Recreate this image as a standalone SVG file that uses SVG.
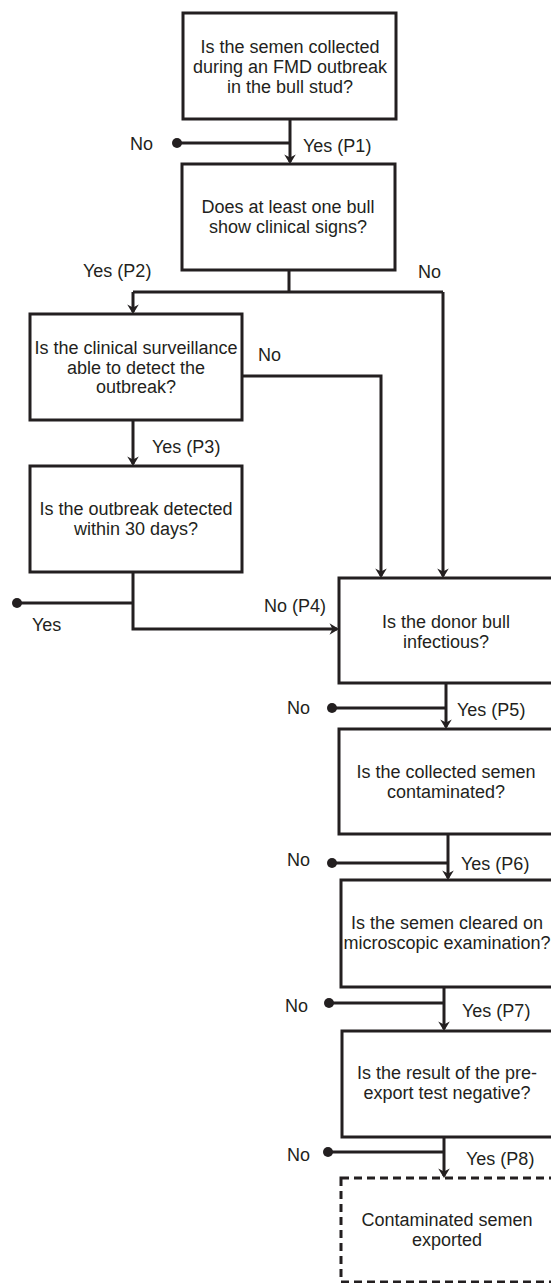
<svg xmlns="http://www.w3.org/2000/svg" width="551" height="1283" viewBox="0 0 551 1283">
<defs>
<style>
.box{fill:#fff;stroke:#231f20;stroke-width:3}
.dash{fill:#fff;stroke:#231f20;stroke-width:3;stroke-dasharray:8 5}
.t{font-family:"Liberation Sans",Arial,sans-serif;font-size:18px;fill:#231f20;text-anchor:middle}
.l{font-family:"Liberation Sans",Arial,sans-serif;font-size:18px;fill:#231f20}
.c{fill:none;stroke:#231f20;stroke-width:3}
.a{fill:none;stroke:#231f20;stroke-width:3;marker-end:url(#arr)}
.dot{fill:#231f20}
</style>
<marker id="arr" markerUnits="userSpaceOnUse" markerWidth="14" markerHeight="14" refX="10" refY="7" orient="auto">
<path d="M12,7 L2.5,1.2 L5.5,7 L2.5,12.8 Z" fill="#231f20"/>
</marker>
</defs>
<g id="connectors">
<path class="a" d="M290,119 V162"/>
<path class="c" d="M177,143 H290"/>
<circle class="dot" cx="177" cy="143" r="5"/>
<path class="c" d="M289,270 V292 M133,292 H443"/>
<path class="a" d="M133,292 V312"/>
<path class="a" d="M443,292 V576"/>
<path class="a" d="M242,376 H381 V576"/>
<path class="a" d="M133,420 V464"/>
<path class="a" d="M133,572 V629 H337"/>
<path class="c" d="M17,603 H133"/>
<circle class="dot" cx="17" cy="603" r="5"/>
<path class="a" d="M446,683 V727"/>
<path class="c" d="M332,708 H446"/>
<circle class="dot" cx="332" cy="708" r="5"/>
<path class="a" d="M448,834 V878"/>
<path class="c" d="M332,863 H448"/>
<circle class="dot" cx="332" cy="863" r="5"/>
<path class="a" d="M444,987 V1029"/>
<path class="c" d="M329,1003 H444"/>
<circle class="dot" cx="329" cy="1003" r="5"/>
<path class="a" d="M444,1137 V1176"/>
<path class="c" d="M328,1152 H444"/>
<circle class="dot" cx="328" cy="1152" r="5"/>
</g>
<g id="labels">
<text class="l" x="130" y="150">No</text>
<text class="l" x="303" y="152">Yes (P1)</text>
<text class="l" x="83" y="277">Yes (P2)</text>
<text class="l" x="418" y="278">No</text>
<text class="l" x="258" y="361">No</text>
<text class="l" x="152" y="453">Yes (P3)</text>
<text class="l" x="32" y="631">Yes</text>
<text class="l" x="264" y="612">No (P4)</text>
<text class="l" x="287" y="714">No</text>
<text class="l" x="457" y="716">Yes (P5)</text>
<text class="l" x="287" y="866">No</text>
<text class="l" x="461" y="870">Yes (P6)</text>
<text class="l" x="285" y="1012">No</text>
<text class="l" x="462" y="1017">Yes (P7)</text>
<text class="l" x="287" y="1161">No</text>
<text class="l" x="466" y="1165">Yes (P8)</text>
</g>
<g id="n1">
<rect class="box" x="183" y="13" width="213" height="106"/>
<text class="t" x="290" y="53">Is the semen collected</text>
<text class="t" x="290" y="73">during an FMD outbreak</text>
<text class="t" x="290" y="93">in the bull stud?</text>
</g>
<g id="n2">
<rect class="box" x="182" y="164" width="213" height="106"/>
<text class="t" x="288" y="213">Does at least one bull</text>
<text class="t" x="288" y="233">show clinical signs?</text>
</g>
<g id="n3">
<rect class="box" x="30" y="314" width="212" height="106"/>
<text class="t" x="136" y="354">Is the clinical surveillance</text>
<text class="t" x="136" y="374">able to detect the</text>
<text class="t" x="136" y="393">outbreak?</text>
</g>
<g id="n4">
<rect class="box" x="30" y="466" width="212" height="106"/>
<text class="t" x="136" y="515">Is the outbreak detected</text>
<text class="t" x="136" y="535">within 30 days?</text>
</g>
<g id="n5">
<rect class="box" x="339" y="578" width="214" height="105"/>
<text class="t" x="446" y="628">Is the donor bull</text>
<text class="t" x="446" y="648">infectious?</text>
</g>
<g id="n6">
<rect class="box" x="339" y="729" width="214" height="105"/>
<text class="t" x="446" y="778">Is the collected semen</text>
<text class="t" x="446" y="798">contaminated?</text>
</g>
<g id="n7">
<rect class="box" x="341" y="880" width="212" height="107"/>
<text class="t" x="447" y="929">Is the semen cleared on</text>
<text class="t" x="447" y="949">microscopic examination?</text>
</g>
<g id="n8">
<rect class="box" x="342" y="1031" width="211" height="106"/>
<text class="t" x="447" y="1079">Is the result of the pre-</text>
<text class="t" x="447" y="1099">export test negative?</text>
</g>
<g id="n9">
<rect class="dash" x="341" y="1178" width="212" height="104"/>
<text class="t" x="447" y="1226">Contaminated semen</text>
<text class="t" x="447" y="1246">exported</text>
</g>
</svg>
